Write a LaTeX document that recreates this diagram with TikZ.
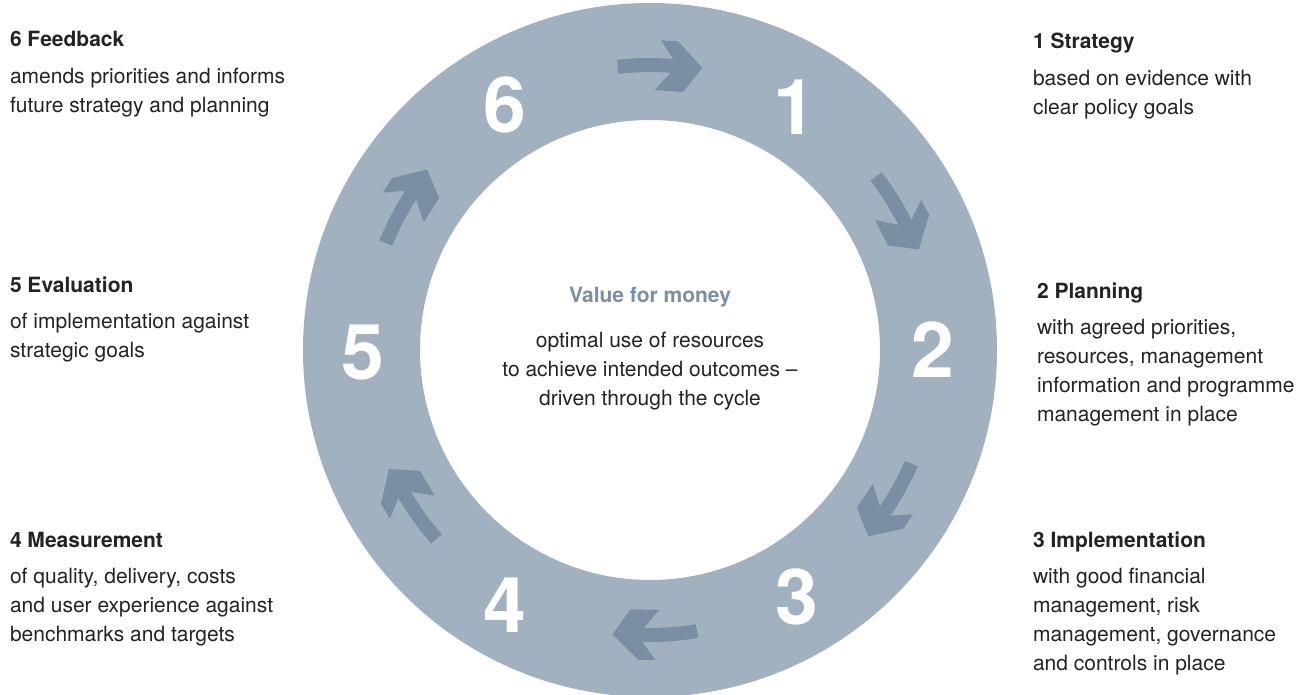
\documentclass[tikz,border=0pt]{standalone}
\usepackage{fontspec}
\setmainfont{TeX Gyre Heros}
\usetikzlibrary{positioning}
\definecolor{ringgrey}{RGB}{161,177,192}
\definecolor{arrowgrey}{RGB}{123,143,164}
\definecolor{textblack}{RGB}{35,35,35}

\begin{document}
\begin{tikzpicture}[x=1pt,y=1pt]
\tikzstyle{every node}+=[inner sep=0pt, outer sep=0pt, text=textblack]
\tikzstyle{heading}=[anchor=base west, font=\fontsize{21}{29}\selectfont\bfseries]
\tikzstyle{body}=[align=left, font=\fontsize{21}{29}\selectfont]
\tikzstyle{stepnum}=[text=white, font=\fontsize{77}{77}\selectfont\bfseries]
\useasboundingbox (0,0) rectangle (1311,-695);
\coordinate (ctr) at (650,-350);
% ring
\fill [ringgrey, even odd rule] (ctr) circle (347) (ctr) circle (230);
% clockwise arrows (\d nudges each one along the ring)
\foreach \k/\d in {0/0,1/1,2/0,3/3,4/5,5/1.5} {
  \begin{scope}[shift={(ctr)}, rotate=-60*\k+\d]
  \draw [arrowgrey, line width=14pt] (96.5:285) arc [start angle=96.5, end angle=84.5, radius=285];
  \fill [arrowgrey] (88:310) -- (84.8:310) -- (79.5:287) -- (82.7:260) -- (89:260) -- (84.5:286) -- cycle;
  \end{scope}
}
% step numbers
\node [stepnum] (s1) at (795,-107) {1};
\node [stepnum] (s2) at (933,-350) {2};
\node [stepnum] (s3) at (797,-597) {3};
\node [stepnum] (s4) at (505,-605) {4};
\node [stepnum] (s5) at (363,-353) {5};
\node [stepnum] (s6) at (505,-105) {6};
% centre
\node [heading, anchor=base, text=arrowgrey] (vfm) at (650,-302) {Value for money};
\node [body, align=center, below=30pt of vfm.base, anchor=north] (vfmtext) {optimal use of resources\\to achieve intended outcomes --\\driven through the cycle};
% left column
\node [heading] (t6) at (10,-47) {6 Feedback};
\node [body, below=21.4pt of t6.base west, anchor=north west] (b6) {amends priorities and informs\\future strategy and planning};
\node [heading] (t5) at (10,-292) {5 Evaluation};
\node [body, below=21.4pt of t5.base west, anchor=north west] (b5) {of implementation against\\strategic goals};
\node [heading] (t4) at (10,-547) {4 Measurement};
\node [body, below=21.4pt of t4.base west, anchor=north west] (b4) {of quality, delivery, costs\\and user experience against\\benchmarks and targets};
% right column
\node [heading] (t1) at (1033,-49) {1 Strategy};
\node [body, below=21.4pt of t1.base west, anchor=north west] (b1) {based on evidence with\\clear policy goals};
\node [heading] (t2) at (1037,-298) {2 Planning};
\node [body, below=21.4pt of t2.base west, anchor=north west] (b2) {with agreed priorities,\\resources, management\\information and programme\\management in place};
\node [heading] (t3) at (1033,-547) {3 Implementation};
\node [body, below=21.4pt of t3.base west, anchor=north west] (b3) {with good financial\\management, risk\\management, governance\\and controls in place};
\end{tikzpicture}
\end{document}
